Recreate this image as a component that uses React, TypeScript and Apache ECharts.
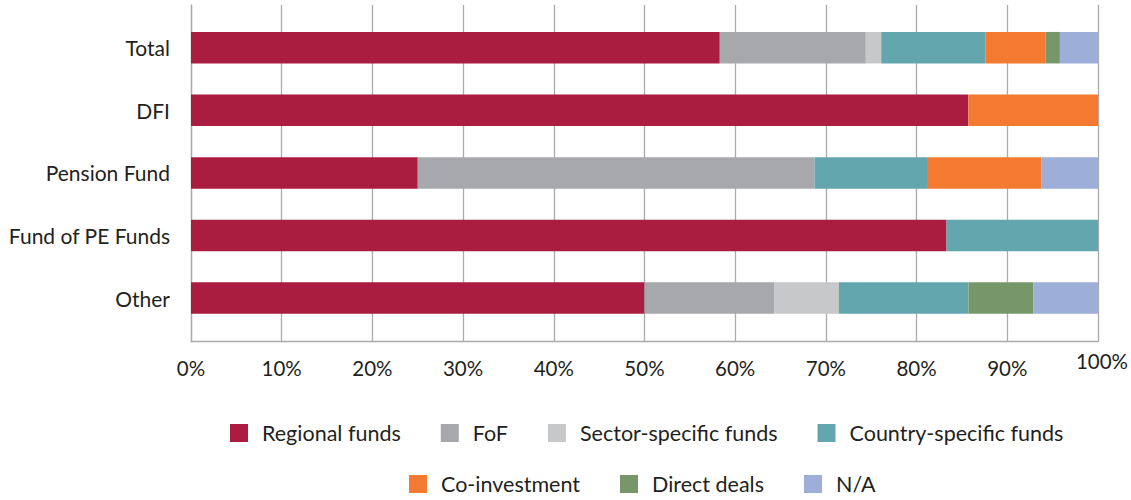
import React, { useEffect, useRef } from "react";
import * as echarts from "echarts";

const categories = ["Total", "DFI", "Pension Fund", "Fund of PE Funds", "Other"];
const seriesNames = [
  "Regional funds",
  "FoF",
  "Sector-specific funds",
  "Country-specific funds",
  "Co-investment",
  "Direct deals",
  "N/A",
];
const regionalFunds = [58.3, 85.7, 25, 83.3, 50];
const fof = [16.1, 0, 43.75, 0, 14.29];
const sectorSpecific = [1.7, 0, 0, 0, 7.14];
const countrySpecific = [11.5, 0, 12.5, 16.7, 14.29];
const coInvestment = [6.6, 14.3, 12.5, 0, 0];
const directDeals = [1.6, 0, 0, 0, 7.14];
const notAvailable = [4.2, 0, 6.25, 0, 7.14];

const colors = ["#AB1D40", "#A7A8AB", "#C7C8CA", "#64A6AD", "#F47A31", "#77976A", "#9DAED9"];
const seriesValues = [regionalFunds, fof, sectorSpecific, countrySpecific, coInvestment, directDeals, notAvailable];

const FONT = "Lato";
const TEXT = "#231F20";
const GRIDC = "#ABABAB";

export default function App() {
  const ref = useRef<HTMLDivElement>(null);
  useEffect(() => {
    if (!ref.current) return;
    const chart = echarts.init(ref.current, null, { renderer: "svg" });
    const legendText = { fontFamily: FONT, fontSize: 21.5, color: TEXT, padding: [0, 0, 0, 9] };
    const option: any = {
      animation: false,
      textStyle: { fontFamily: FONT },
      grid: [
        { left: 191, right: 33, top: 16.4, height: 313, containLabel: false },
        { left: 191, right: 33, top: 5, height: 336.7, containLabel: false },
      ],
      xAxis: [
        { type: "value", gridIndex: 0, min: 0, max: 100, interval: 10, show: false },
        {
          type: "value",
          gridIndex: 1,
          min: 0,
          max: 100,
          interval: 10,
          axisLine: { show: true, lineStyle: { color: GRIDC, width: 1.3 } },
          axisTick: { show: false },
          splitLine: { show: true, lineStyle: { color: GRIDC, width: 1.3 } },
          axisLabel: {
            margin: 16,
            fontFamily: FONT,
            fontSize: 20.5,
            color: TEXT,
            formatter: (v: number) => (v === 100 ? "{hi|" + v + "%}" : v + "%"),
            rich: {
              hi: { fontFamily: FONT, fontSize: 20.5, color: TEXT, lineHeight: 6, padding: [0, 0, 0, 8] },
            },
          },
        },
      ],
      yAxis: [
        {
          type: "category",
          gridIndex: 0,
          inverse: true,
          data: categories,
          axisLine: { show: false },
          axisTick: { show: false },
          axisLabel: { margin: 21, fontFamily: FONT, fontSize: 21, color: TEXT, padding: [0, 0, 3, 0] },
        },
        {
          type: "value",
          gridIndex: 1,
          min: 0,
          max: 1,
          axisLine: { show: true, lineStyle: { color: GRIDC, width: 1.3 } },
          axisTick: { show: false },
          axisLabel: { show: false },
          splitLine: { show: false },
        },
      ],
      legend: [
        {
          data: seriesNames.slice(0, 4),
          left: 230,
          top: 422,
          padding: 0,
          icon: "rect",
          itemWidth: 18,
          itemHeight: 18,
          itemGap: 40,
          textStyle: legendText,
        },
        {
          data: seriesNames.slice(4),
          left: 409,
          top: 473,
          padding: 0,
          icon: "rect",
          itemWidth: 18,
          itemHeight: 18,
          itemGap: 40,
          textStyle: legendText,
        },
      ],
      series: seriesNames.map((name, i) => ({
        name,
        type: "bar",
        stack: "total",
        xAxisIndex: 0,
        yAxisIndex: 0,
        barWidth: 31.5,
        itemStyle: { color: colors[i] },
        data: seriesValues[i],
      })),
    };
    chart.setOption(option);
    return () => chart.dispose();
  }, []);
  return (
    <div
      ref={ref}
      style={{ position: "fixed", left: 0, top: 0, width: 1131, height: 500, background: "#fff" }}
    />
  );
}
